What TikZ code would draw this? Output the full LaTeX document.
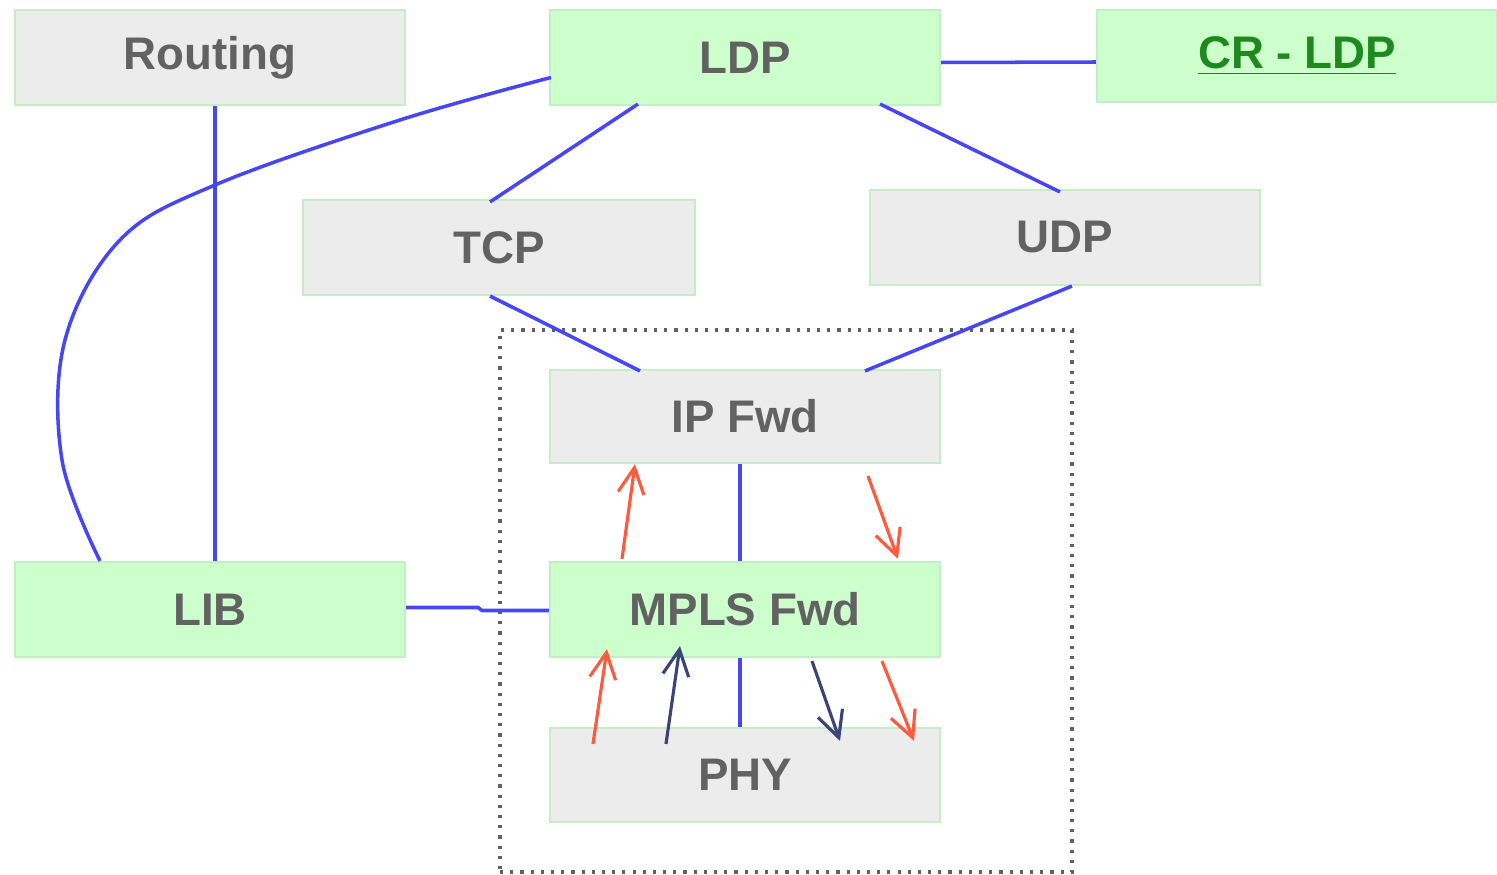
\documentclass[tikz,border=0pt]{standalone}
\usepackage{fontspec}
\setmainfont{Liberation Sans}
\usepackage{tikz}
\usetikzlibrary{positioning,calc,arrows.meta}

\definecolor{boxgrey}{HTML}{ECECEC}
\definecolor{boxgreen}{HTML}{CCFFCC}
\definecolor{edgegreen}{HTML}{C4EEC4}
\definecolor{textgrey}{HTML}{626262}
\definecolor{darkgreen}{HTML}{1E8A1E}
\definecolor{linkblue}{HTML}{4646F5}
\definecolor{flowred}{HTML}{FF5A3C}
\definecolor{flownavy}{HTML}{3A4478}

\begin{document}
\begin{tikzpicture}[
    every node/.style={font=\fontsize{13}{15}\selectfont\bfseries, text=textgrey},
    layer/.style={draw=edgegreen, line width=0.6pt, minimum width=3.9cm, minimum height=0.95cm, inner sep=0pt},
    greybox/.style={layer, fill=boxgrey},
    greenbox/.style={layer, fill=boxgreen},
    link/.style={linkblue, line width=1pt},
    flow/.style={->, >={Straight Barb[length=2.6mm, width=2.6mm]}, line width=0.9pt}]
    \useasboundingbox (0,0) rectangle (14.97,-8.75);

    % Protocol boxes
    \node[greybox] (route) at (2.10,-0.575) {Routing};
    \node[greenbox] (ldp) at (7.45,-0.575) {LDP};
    \node[greenbox, minimum width=4.0cm, minimum height=0.92cm, text=darkgreen] (crldp) at (12.97,-0.56) {\underline{CR - LDP}};
    \node[greybox, minimum width=3.92cm] (tcp) at (4.99,-2.475) {TCP};
    \node[greybox] (udp) at (10.65,-2.375) {UDP};

    % Forwarding plane
    \node[draw=gray!75!black, dotted, line width=0.9pt, minimum width=5.72cm, minimum height=5.42cm] (plane) at (7.86,-6.01) {};
    \node[greybox, minimum height=0.93cm] (ipfwd) at (7.45,-4.165) {IP Fwd};
    \node[greenbox] (mpls) at (7.45,-6.095) {MPLS Fwd};
    \node[greybox, minimum height=0.94cm] (phy) at (7.45,-7.75) {PHY};
    \node[greenbox] (lib) at (2.10,-6.095) {LIB};

    % Links
    \draw[link] ($(ldp.east)+(0,-0.05)$) -- ($(crldp.west)+(0,-0.06)$);
    \draw[link] ($(ldp.south)+(-1.07,0.02)$) -- ($(tcp.north)+(-0.09,-0.03)$);
    \draw[link] ($(ldp.south)+(1.35,0.02)$) -- ($(udp.north)+(-0.05,-0.03)$);
    \draw[link] ($(route.south)+(0.05,0)$) -- ($(lib.north)+(0.05,0)$);
    \draw[link] ($(tcp.south)+(-0.09,0)$) -- ($(ipfwd.north)+(-1.05,-0.02)$);
    \draw[link] ($(udp.south)+(0.07,0)$) -- ($(ipfwd.north)+(1.2,-0.02)$);
    \draw[link] ($(ipfwd.south)+(-0.05,0)$) -- ($(mpls.north)+(-0.05,0)$);
    \draw[link] ($(mpls.south)+(-0.05,0)$) -- ($(phy.north)+(-0.05,0)$);
    \draw[link] ($(lib.east)+(0,0.02)$) -- (4.78,-6.075) -- (4.82,-6.105) -- ($(mpls.west)+(0,-0.01)$);

    % LDP to LIB
    \coordinate (ldpw) at ($(ldp.west)+(0.02,-0.2)$);
    \coordinate (libn) at ($(lib.north)+(-1.1,0)$);
    \draw[link] plot[smooth, tension=0.6] coordinates {(ldpw) (4.0,-1.2) (2.15,-1.85) (1.2,-2.4) (0.65,-3.4) (0.62,-4.6) (libn)};

    % Packet flows
    \draw[flow, flowred] ($(mpls.north)+(-1.23,0.02)$) -- ($(ipfwd.south)+(-1.1,0.0)$);
    \draw[flow, flowred] ($(ipfwd.south)+(1.23,-0.12)$) -- ($(mpls.north)+(1.53,0.02)$);
    \draw[flow, flowred] ($(phy.north)+(-1.52,-0.17)$) -- ($(mpls.south)+(-1.38,0.09)$);
    \draw[flow, flownavy] ($(phy.north)+(-0.79,-0.17)$) -- ($(mpls.south)+(-0.65,0.12)$);
    \draw[flow, flownavy] ($(mpls.south)+(0.67,-0.03)$) -- ($(phy.north)+(0.95,-0.14)$);
    \draw[flow, flowred] ($(mpls.south)+(1.37,-0.03)$) -- ($(phy.north)+(1.69,-0.14)$);
\end{tikzpicture}
\end{document}
